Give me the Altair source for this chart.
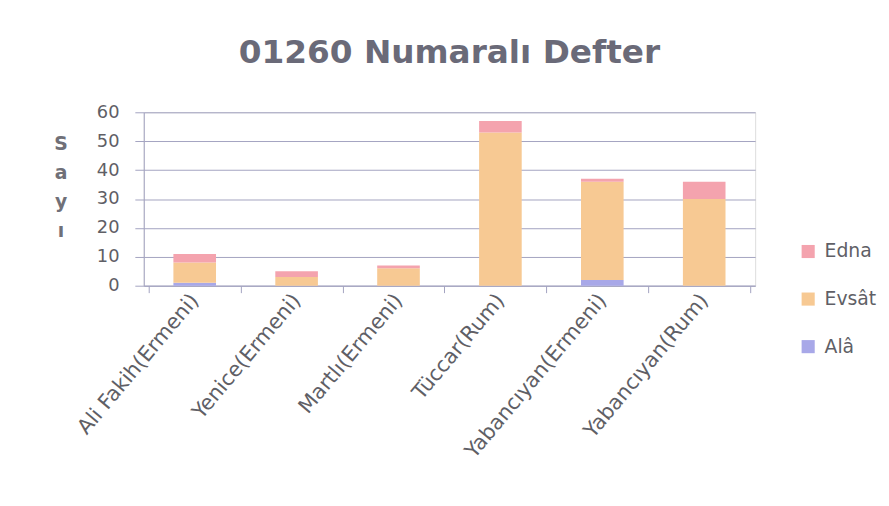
import altair as alt
import pandas as pd

categories = ["Ali Fakih(Ermeni)", "Yenice(Ermeni)", "Martlı(Ermeni)", "Tüccar(Rum)", "Yabancıyan(Ermeni)", "Yabancıyan(Rum)"]
ala = [1, 0, 0, 0, 2, 0]
evsat = [7, 3, 6, 53, 34, 30]
edna = [3, 2, 1, 4, 1, 6]

series = ["Edna", "Evsât", "Alâ"]
colors = ["#f4a3ae", "#f7c993", "#a8a8e8"]
stack_order = {"Alâ": 0, "Evsât": 1, "Edna": 2}

rows = []
for i, c in enumerate(categories):
    for name, vals in (("Alâ", ala), ("Evsât", evsat), ("Edna", edna)):
        rows.append({"cat": c, "series": name, "value": vals[i], "ord": stack_order[name]})
df = pd.DataFrame(rows)

FONT = "DejaVu Sans"
TXT = "#5f5f66"
LINE = "#a3a3c0"

chart = alt.Chart(df).mark_bar(size=43).encode(
    x=alt.X("cat:N", sort=categories, title=None,
            axis=alt.Axis(labelAngle=-50, labelFontSize=21, labelColor=TXT,
                          labelFont=FONT, tickBand="extent", domainColor=LINE,
                          tickColor=LINE, tickSize=7, labelPadding=4,
                          labelLimit=400)),
    y=alt.Y("value:Q", title=["S", "a", "y", "ı"],
            scale=alt.Scale(domain=[0, 60], nice=False),
            axis=alt.Axis(values=[0, 10, 20, 30, 40, 50, 60], labelFontSize=18,
                          labelColor=TXT, labelFont=FONT, titleFont=FONT,
                          titleFontSize=19, titleColor="#707078", titleAngle=0,
                          titleFontWeight="bold", titleLineHeight=29,
                          titleX=-84, titleY=32, titleAlign="center",
                          titleBaseline="middle",
                          gridColor=LINE, domainColor=LINE,
                          tickColor=LINE, tickSize=9, labelPadding=16)),
    color=alt.Color("series:N", scale=alt.Scale(domain=series, range=colors),
                    legend=alt.Legend(title=None, orient="none", legendX=661, legendY=131,
                                      symbolType="square", symbolSize=175,
                                      symbolStrokeWidth=0, labelFontSize=19,
                                      labelColor=TXT, labelFont=FONT,
                                      rowPadding=28, labelOffset=7)),
    order=alt.Order("ord:Q"),
).properties(
    width=617, height=175,
    title=alt.TitleParams("01260 Numaralı Defter", fontSize=33, font=FONT,
                          fontWeight="bold", color="#6a6a78", anchor="middle", offset=34),
    autosize=alt.AutoSizeParams(type="none"),
    padding={"left": 137, "top": 103, "right": 127, "bottom": 212},
).configure_view(stroke=None).configure(background="white")

chart.save("out.html", embed_options={"renderer": "svg", "actions": False})
